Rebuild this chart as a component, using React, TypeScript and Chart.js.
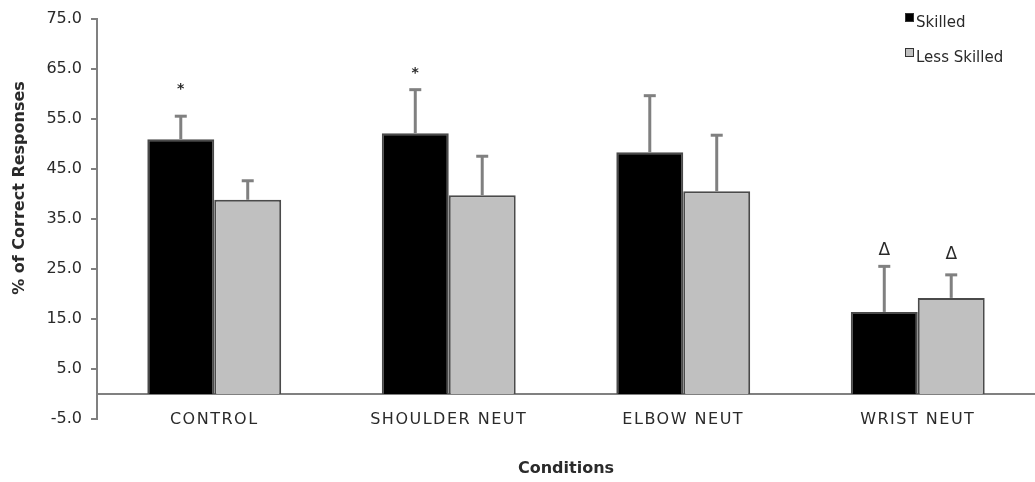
import React, { useEffect, useRef } from "react";
import { Chart, registerables } from "chart.js";

Chart.register(...registerables);

const categories = ["CONTROL", "SHOULDER NEUT", "ELBOW NEUT", "WRIST NEUT"];
const seriesNames = ["Skilled", "Less Skilled"];
const skilledValues = [50.9, 52.1, 48.3, 16.4];
const skilledErrors = [4.6, 8.7, 11.3, 9.1];
const lessSkilledValues = [38.8, 39.7, 40.5, 19.2];
const lessSkilledErrors = [3.8, 7.8, 11.2, 4.6];
const skilledMarks = ["*", "*", "", "Δ"];
const skilledMarkValues = [60.9, 64.0, 0, 28.7];
const lessSkilledMarks = ["", "", "", "Δ"];
const lessSkilledMarkValues = [0, 0, 0, 27.9];
const yTitle = "% of Correct Responses";
const xTitle = "Conditions";

const FONT = "'DejaVu Sans', 'Liberation Sans', Arial, sans-serif";
const TEXT = "#2a2a2a";
const GRAY = "#808080";

const errorsByDataset = [skilledErrors, lessSkilledErrors];
const marksByDataset = [skilledMarks, lessSkilledMarks];
const markValuesByDataset = [skilledMarkValues, lessSkilledMarkValues];

const extrasPlugin = {
  id: "extras",
  beforeDatasetsDraw(chart: any) {
    const { ctx, chartArea, scales } = chart;
    const y0 = scales.y.getPixelForValue(0);
    ctx.save();
    ctx.strokeStyle = GRAY;
    ctx.lineWidth = 2;
    ctx.beginPath();
    ctx.moveTo(chartArea.left, y0);
    ctx.lineTo(chartArea.right, y0);
    ctx.stroke();
    ctx.restore();
  },
  afterDatasetsDraw(chart: any) {
    const { ctx, scales, chartArea } = chart;
    const yScale = scales.y;
    const xScale = scales.x;
    ctx.save();
    chart.data.datasets.forEach((ds: any, di: number) => {
      const meta = chart.getDatasetMeta(di);
      meta.data.forEach((bar: any, i: number) => {
        const v = ds.data[i];
        const e = errorsByDataset[di][i];
        const yTop = yScale.getPixelForValue(v + e);
        const yBar = yScale.getPixelForValue(v);
        ctx.strokeStyle = GRAY;
        ctx.lineWidth = 3;
        ctx.beginPath();
        ctx.moveTo(bar.x, yBar);
        ctx.lineTo(bar.x, yTop);
        ctx.stroke();
        ctx.beginPath();
        ctx.moveTo(bar.x - 6, yTop);
        ctx.lineTo(bar.x + 6, yTop);
        ctx.stroke();
        const mark = marksByDataset[di][i];
        if (mark) {
          const my = yScale.getPixelForValue(markValuesByDataset[di][i]);
          ctx.fillStyle = TEXT;
          ctx.textAlign = "center";
          ctx.textBaseline = "middle";
          ctx.font = mark === "*" ? `bold 14px ${FONT}` : `17px ${FONT}`;
          ctx.fillText(mark, bar.x, my);
        }
      });
    });

    // category labels (just below the zero line, over the lower axis range)
    ctx.fillStyle = TEXT;
    ctx.font = `16px ${FONT}`;
    ctx.textAlign = "center";
    ctx.textBaseline = "middle";
    try {
      (ctx as any).letterSpacing = "1.5px";
    } catch (e) {}
    categories.forEach((c, i) => {
      ctx.fillText(c, xScale.getPixelForValue(i), chartArea.bottom + 1);
    });
    try {
      (ctx as any).letterSpacing = "0px";
    } catch (e) {}

    // legend
    const lx = chartArea.right - 130;
    const rows = [22, 57];
    chart.data.datasets.forEach((ds: any, di: number) => {
      const cy = rows[di];
      ctx.fillStyle = ds.backgroundColor;
      ctx.fillRect(lx, cy - 9, 9, 9);
      ctx.strokeStyle = "#333";
      ctx.lineWidth = 1;
      ctx.strokeRect(lx + 0.5, cy - 8.5, 8, 8);
      ctx.fillStyle = TEXT;
      ctx.font = `15px ${FONT}`;
      ctx.textAlign = "left";
      ctx.textBaseline = "middle";
      ctx.fillText(seriesNames[di], lx + 11, cy + 1);
    });

    // y axis title
    ctx.save();
    ctx.translate(20, 188);
    ctx.rotate(-Math.PI / 2);
    ctx.fillStyle = TEXT;
    ctx.font = `bold 16px ${FONT}`;
    ctx.textAlign = "center";
    ctx.textBaseline = "middle";
    ctx.fillText(yTitle, 0, 0);
    ctx.restore();
    ctx.restore();
  },
};

export default function App() {
  const canvasRef = useRef<HTMLCanvasElement | null>(null);

  useEffect(() => {
    if (!canvasRef.current) return;
    const chart = new Chart(canvasRef.current, {
      type: "bar",
      data: {
        labels: categories,
        datasets: [
          {
            label: seriesNames[0],
            data: skilledValues,
            backgroundColor: "#000000",
            borderColor: "#4a4a4a",
            borderWidth: 2,
            categoryPercentage: 0.571,
            barPercentage: 1,
          },
          {
            label: seriesNames[1],
            data: lessSkilledValues,
            backgroundColor: "#c0c0c0",
            borderColor: "#4a4a4a",
            borderWidth: 2,
            categoryPercentage: 0.571,
            barPercentage: 1,
          },
        ],
      },
      options: {
        animation: false,
        responsive: true,
        maintainAspectRatio: false,
        layout: { padding: { top: 15, right: 0, bottom: 0, left: 0 } },
        plugins: {
          legend: { display: false },
          tooltip: { enabled: false },
        },
        scales: {
          x: {
            grid: { display: false, drawTicks: false },
            border: { display: false },
            ticks: { display: false },
            title: {
              display: true,
              text: xTitle,
              color: TEXT,
              font: { family: FONT, size: 16, weight: "bold" },
              padding: { top: 4, bottom: 4 },
            },
            afterFit(scale: any) {
              scale.height = 63;
            },
          },
          y: {
            min: -5,
            max: 75,
            ticks: {
              stepSize: 10,
              color: TEXT,
              font: { family: FONT, size: 16 },
              padding: 9,
              callback: (v: any) => Number(v).toFixed(1),
            },
            grid: {
              drawOnChartArea: false,
              drawTicks: true,
              tickLength: 6,
              color: GRAY,
              lineWidth: 2,
            },
            border: { display: true, color: GRAY, width: 2 },
            afterFit(scale: any) {
              scale.width = 97;
            },
          },
        },
      },
      plugins: [extrasPlugin],
    });
    return () => chart.destroy();
  }, []);

  return (
    <div style={{ position: "fixed", left: 0, top: 0, width: 1035, height: 482, background: "#fff" }}>
      <canvas ref={canvasRef} />
    </div>
  );
}
